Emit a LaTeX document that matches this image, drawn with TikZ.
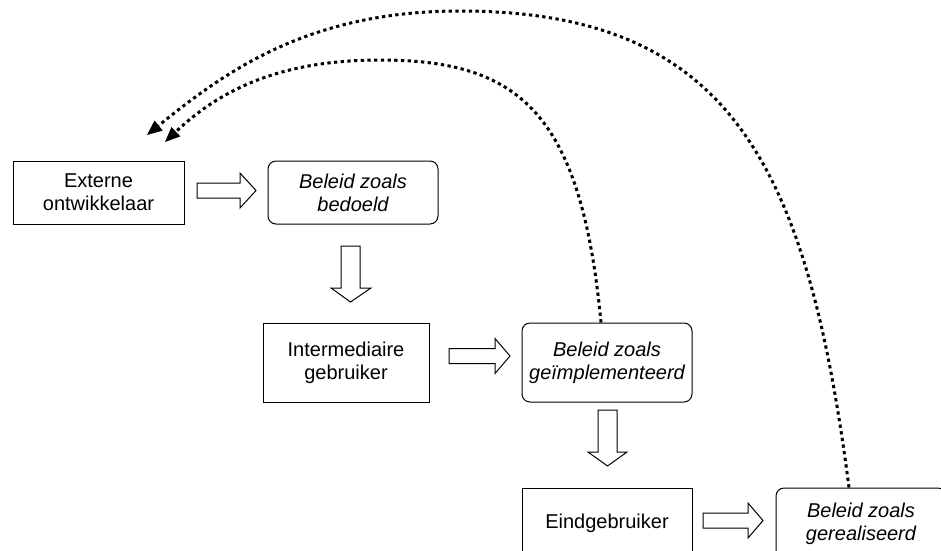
\documentclass[tikz,border=0pt]{standalone}
\usepackage{fontspec}
\setmainfont{Liberation Sans}
\usetikzlibrary{arrows.meta}
\tikzset{
  box/.style={draw, line width=1pt, align=center, inner sep=2pt,
    font=\fontsize{20}{23}\selectfont},
  rbox/.style={box, rounded corners=8pt, font=\fontsize{20}{23}\selectfont\itshape},
  blockarrow/.style={draw, fill=white, line width=1pt, line join=miter},
  feedback/.style={line width=3pt, dash pattern=on 3.3pt off 3.4pt,
    -{Triangle[length=15pt,width=13pt,line width=0pt]}}
}
\begin{document}
\begin{tikzpicture}[x=1pt,y=-1pt]
\useasboundingbox (0,0) rectangle (941,550);
\clip (0,0) rectangle (941,550);

% boxes
\node[box, minimum width=171pt, minimum height=63pt] (b1) at (98.5,192.5) {Externe\\ontwikkelaar};
\node[rbox, minimum width=170pt, minimum height=63pt] (b2) at (353,192.5) {Beleid zoals\\bedoeld};
\node[box, minimum width=166pt, minimum height=79pt] (b3) at (346,362.5) {Intermediaire\\gebruiker};
\node[rbox, minimum width=170pt, minimum height=79pt] (b4) at (607,362.5) {Beleid zoals\\geïmplementeerd};
\node[box, minimum width=170pt, minimum height=71pt] (b5) at (607,523.5) {Eindgebruiker};
\node[rbox, minimum width=170pt, minimum height=71pt] (b6) at (861,523.5) {Beleid zoals\\gerealiseerd};

% block arrows
\draw[blockarrow] (197,183) -- (240,183) -- (240,173) -- (256,190.5) -- (240,208) -- (240,198) -- (197,198) -- cycle;
\draw[blockarrow] (449,348.5) -- (495,348.5) -- (495,338.5) -- (510,356) -- (495,373.5) -- (495,363.5) -- (449,363.5) -- cycle;
\draw[blockarrow] (703,513) -- (748,513) -- (748,503) -- (763,520.5) -- (748,538) -- (748,528) -- (703,528) -- cycle;
\draw[blockarrow] (341,246) -- (360,246) -- (360,288) -- (371,288) -- (350.5,302) -- (331,288) -- (341,288) -- cycle;
\draw[blockarrow] (598,410) -- (617,410) -- (617,452) -- (627,452) -- (607.5,466) -- (588,452) -- (598,452) -- cycle;

% feedback arrows
\coordinate (tipOuter) at (147,135);
\coordinate (tipInner) at (165,142);
\draw[feedback] ([xshift=-12pt]b6.north) .. controls (807,164) and (730,11) .. (460,11)
   .. controls (310,11) and (227,70) .. (tipOuter);
\draw[feedback] ([xshift=-6pt]b4.north) .. controls (581,113) and (520,60) .. (380,60)
   .. controls (280,60) and (220,90) .. (tipInner);
\end{tikzpicture}
\end{document}
